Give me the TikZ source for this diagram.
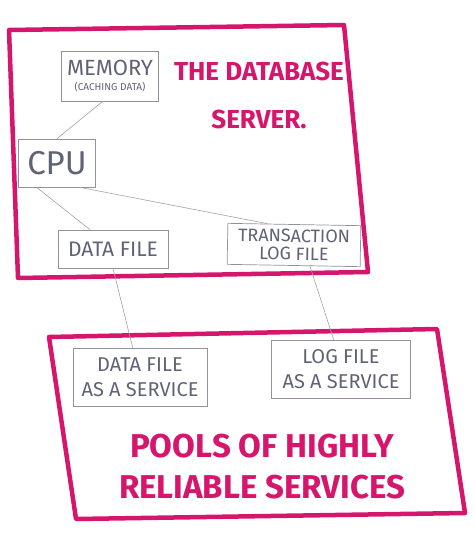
\documentclass[tikz,border=0pt]{standalone}
\usepackage{fontspec}
\setmainfont{Fira Sans}
\usepackage{tikz}
\usetikzlibrary{positioning}
\definecolor{dbpink}{RGB}{214,22,108}
\definecolor{pencil}{RGB}{96,98,118}

\begin{document}
\begin{tikzpicture}[x=1pt, y=-1pt]
  \tikzset{FrameStyle/.style = {draw           = dbpink,
                                line width     = 4.5pt,
                                line join      = round},
           UnitStyle/.style  = {shape          = rectangle,
                                draw           = pencil!70,
                                line width     = 0.7pt,
                                text           = pencil,
                                align          = center,
                                inner sep      = 1pt}}
  \useasboundingbox (0,0) rectangle (474,537);
    \begin{scope}[every node/.style={UnitStyle}, link/.style={draw=pencil!60, line width=0.6pt}, headline/.style={draw=none, text=dbpink, font=\bfseries\fontsize{#1}{#1}\selectfont}]
	%%% SERVEUR %%%
	\draw[FrameStyle] (9,30) -- (344,25) -- (368,272) -- (18,278) -- cycle;
	\node[headline=26, align=center] (title) at (259,95) {THE DATABASE\\[22pt]SERVER.};
	%
	\node[minimum width=97pt, minimum height=50pt, font=\fontsize{10}{10}\selectfont](mem) at (110,76)
	  {{\fontsize{22}{22}\selectfont MEMORY}\\[5pt](CACHING DATA)};
	\node[minimum width=77pt, minimum height=48pt, font=\fontsize{33}{33}\selectfont](cpu) at (57,163) {CPU};
	\node[minimum width=110pt, minimum height=38pt, font=\fontsize{21}{21}\selectfont](dfile) at (113,249) {DATA FILE};
	\node[minimum width=133pt, minimum height=41pt, font=\fontsize{18}{18}\selectfont, rotate=-1](trans) at (294,245) {TRANSACTION\\LOG FILE};
	\draw[link](mem.-106) to (cpu.north);
	\draw[link](cpu.-130) to (dfile.140);
	\draw[link](cpu.-47) to (trans.142);
	%%% SERVICES %%%
	%
	\draw[FrameStyle] (49,337) -- (437,329) -- (465,513) -- (76,519) -- cycle;
	\node[minimum width=134pt, minimum height=58pt, font=\fontsize{20}{25}\selectfont](dsvc) at (140,377) {DATA FILE\\AS A SERVICE};
	\node[minimum width=139pt, minimum height=58pt, font=\fontsize{20}{25}\selectfont](lsvc) at (341,369) {LOG FILE\\AS A SERVICE};
	\node[headline=33, align=center] (pools) at (262,467) {POOLS OF HIGHLY\\[8pt]RELIABLE SERVICES};
	\draw[link](dfile.south) to (dsvc.104);
	\draw[link](trans.-52) to (lsvc.104);
  \end{scope}
\end{tikzpicture}
\end{document}
